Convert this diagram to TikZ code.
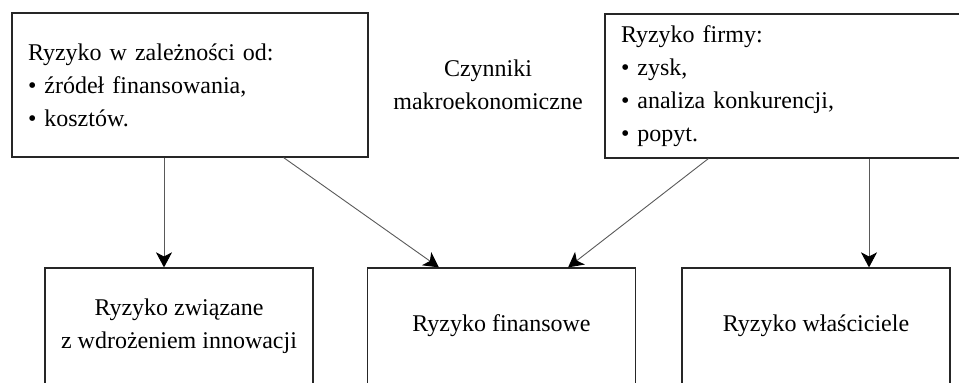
\documentclass[tikz,border=0pt]{standalone}
\usepackage{fontspec}
\setmainfont{Liberation Serif}
\usepackage{tikz}
\usetikzlibrary{arrows.meta, positioning, calc}

\begin{document}
\begin{tikzpicture}[
    x=0.5pt, y=-0.5pt,
    every node/.style={font=\fontsize{12}{16.5}\selectfont},
    topbox/.style={draw=black!85, line width=0.6pt, inner xsep=8pt, inner ysep=0pt, minimum height=72pt, align=left},
    riskbox/.style={draw=black!85, line width=0.6pt, minimum width=134pt, minimum height=58pt, inner sep=2pt, align=center},
    arr/.style={-{Stealth[length=7.5pt, width=8pt, inset=2pt, color=black, fill=black]}, draw=black!65, line width=0.45pt},
    ]
    \useasboundingbox (0,0) rectangle (959,383);
    \clip (0,0) rectangle (959,383);

    % top boxes
    \node[topbox, text width=162pt] (zal) at (190, 85)
        {Ryzyko w zależności od:\\\textbullet\ źródeł finansowania,\\\textbullet\ kosztów.};
    \node[topbox, text width=166pt] (firma) at (787, 86)
        {Ryzyko firmy:\\\textbullet\ zysk,\\\textbullet\ analiza konkurencji,\\\textbullet\ popyt.};

    % label between top boxes
    \node[align=center, inner sep=0pt] (makro) at (488, 85) {Czynniki\\makroekonomiczne};

    % bottom boxes
    \node[riskbox] (innow) at (179, 326) {Ryzyko związane\\z wdrożeniem innowacji};
    \node[riskbox] (finans) at (501.5, 326) {Ryzyko finansowe};
    \node[riskbox] (wlasc) at (816, 326) {Ryzyko właściciele};

    % arrows
    \draw[arr] ([xshift=-7.5pt]innow.north |- zal.south) -- ([xshift=-7.5pt]innow.north);
    \draw[arr] ([xshift=-42.5pt]zal.south east) -- ([xshift=36pt]finans.north west);
    \draw[arr] ([xshift=52pt]firma.south west) -- ([xshift=-34pt]finans.north east);
    \draw[arr] ([xshift=26.5pt]wlasc.north |- firma.south) -- ([xshift=26.5pt]wlasc.north);
\end{tikzpicture}
\end{document}
